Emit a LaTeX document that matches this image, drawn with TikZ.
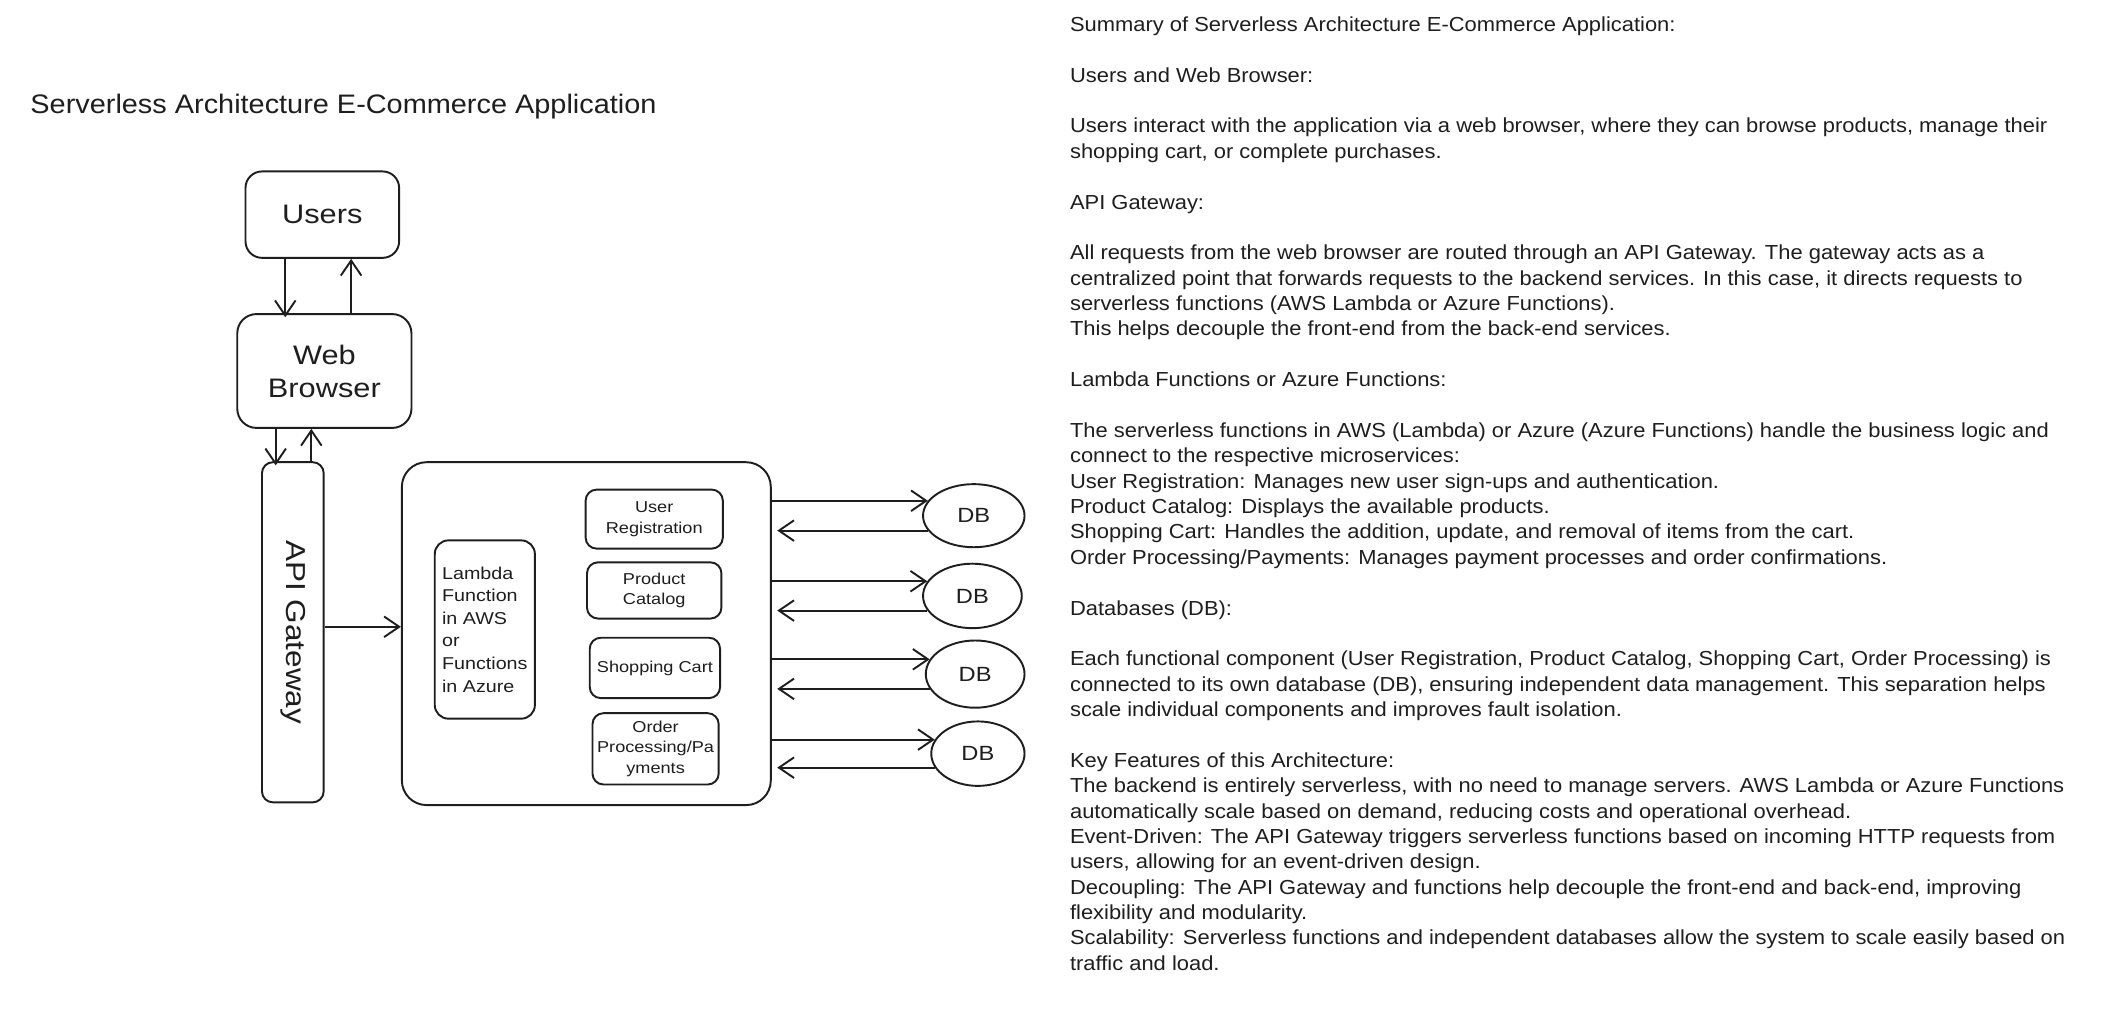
\documentclass[tikz,border=0pt]{standalone}
\usepackage{fontspec}
\setmainfont{Liberation Sans}[FakeStretch=1.08]
\newfontfamily\lblfont{Liberation Sans}[FakeStretch=1.15]
\usetikzlibrary{arrows.meta,shapes.geometric,calc}
\definecolor{ink}{RGB}{30,30,30}
\begin{document}
\begin{tikzpicture}[x=1pt,y=-1pt,
  box/.style={draw=ink, line width=1.4pt, rounded corners=12pt, inner sep=0pt, align=center, text=ink},
  arr/.style={draw=ink, line width=1.4pt, -{Straight Barb[length=11pt,width=15pt]}},
  dbs/.style={ellipse, draw=ink, line width=1.4pt, inner sep=0pt, text=ink, font=\lblfont\fontsize{15}{18}\selectfont},
  big/.style={font=\lblfont\fontsize{19.5}{24}\selectfont},
  small/.style={font=\lblfont\fontsize{11.5}{15}\selectfont}]
\useasboundingbox (0,0) rectangle (1545,746);
\fill[white] (0,0) rectangle (1545,746);

\node[anchor=west, inner sep=0pt, text=ink, font=\fontsize{19.5}{24}\selectfont] (title) at (22,78) {Serverless Architecture E-Commerce Application};

\node[box, big, minimum width=112pt, minimum height=63pt] (users) at (235,156.5) {Users};
\node[box, big, rounded corners=14pt, minimum width=127pt, minimum height=83pt] (browser) at (236.5,270.5) {Web\\Browser};
\node[box, rounded corners=8pt, minimum width=45pt, minimum height=248pt] (api) at (213.5,461) {};
\node[rotate=-90, inner sep=0pt, text=ink, font=\lblfont\fontsize{20}{24}\selectfont] (apitxt) at (api.center) {API Gateway};

\node[box, rounded corners=18pt, minimum width=269pt, minimum height=250pt] (main) at (427.5,462) {};
\node[box, rounded corners=10pt, minimum width=73pt, minimum height=130pt, align=left, font=\lblfont\fontsize{12.5}{16.5}\selectfont] (lambda) at (353.5,459) {Lambda\\Function\\in AWS\\or\\Functions\\in Azure};

\node[box, small, rounded corners=8pt, minimum width=100pt, minimum height=43pt] (ur) at (477,378.5) {User\\Registration};
\node[box, small, rounded corners=8pt, minimum width=98pt, minimum height=41pt] (pc) at (477,430.5) {Product\\Catalog};
\node[box, small, rounded corners=8pt, minimum width=95pt, minimum height=44pt] (sc) at (477.5,487) {Shopping Cart};
\node[box, small, rounded corners=8pt, minimum width=92pt, minimum height=52pt] (op) at (478,546) {Order\\Processing/Pa\\yments};

\node[dbs, minimum width=74pt, minimum height=46pt] (db1) at (710,376) {DB};
\node[dbs, minimum width=72pt, minimum height=47pt] (db2) at (709,434.5) {DB};
\node[dbs, minimum width=72pt, minimum height=49pt] (db3) at (711,491.5) {DB};
\node[dbs, minimum width=68pt, minimum height=47pt] (db4) at (713,549.5) {DB};

% users <-> browser
\draw[arr] ([xshift=-27pt]users.south) -- ([xshift=-27pt,yshift=-3pt]users.south |- browser.north);
\draw[arr] ([xshift=19.5pt]browser.north) -- ([xshift=19.5pt]browser.north |- users.south);
% browser <-> api
\draw[arr] ([xshift=-35.5pt]browser.south) -- ([xshift=-35.5pt,yshift=-3pt]browser.south |- api.north);
\draw[arr] ([xshift=-9.5pt]browser.south |- api.north) -- ([xshift=-9.5pt]browser.south);
% api -> functions
\draw[arr] ([yshift=4pt]api.east) -- ([yshift=4pt]api.east -| main.west);
% functions <-> DBs
\foreach \d in {db1,db2,db3,db4}{
  \draw[arr] (main.east |- \d.162) -- (\d.162);
  \draw[arr] (\d.198) -- ([xshift=4pt]\d.198 -| main.east);
}

\node[anchor=north west, inner sep=0pt, align=left, text=ink, font=\fontsize{14.8}{18.5}\selectfont] (summary) at (780,12) {%
Summary of Serverless Architecture E-Commerce Application:\\[18.5pt]
Users and Web Browser:\\[18.5pt]
Users interact with the application via a web browser, where they can browse products, manage their\\
shopping cart, or complete purchases.\\[18.5pt]
API Gateway:\\[18.5pt]
All requests from the web browser are routed through an API Gateway. The gateway acts as a\\
centralized point that forwards requests to the backend services. In this case, it directs requests to\\
serverless functions (AWS Lambda or Azure Functions).\\
This helps decouple the front-end from the back-end services.\\[18.5pt]
Lambda Functions or Azure Functions:\\[18.5pt]
The serverless functions in AWS (Lambda) or Azure (Azure Functions) handle the business logic and\\
connect to the respective microservices:\\
User Registration: Manages new user sign-ups and authentication.\\
Product Catalog: Displays the available products.\\
Shopping Cart: Handles the addition, update, and removal of items from the cart.\\
Order Processing/Payments: Manages payment processes and order confirmations.\\[18.5pt]
Databases (DB):\\[18.5pt]
Each functional component (User Registration, Product Catalog, Shopping Cart, Order Processing) is\\
connected to its own database (DB), ensuring independent data management. This separation helps\\
scale individual components and improves fault isolation.\\[18.5pt]
Key Features of this Architecture:\\
The backend is entirely serverless, with no need to manage servers. AWS Lambda or Azure Functions\\
automatically scale based on demand, reducing costs and operational overhead.\\
Event-Driven: The API Gateway triggers serverless functions based on incoming HTTP requests from\\
users, allowing for an event-driven design.\\
Decoupling: The API Gateway and functions help decouple the front-end and back-end, improving\\
flexibility and modularity.\\
Scalability: Serverless functions and independent databases allow the system to scale easily based on\\
traffic and load.};
\end{tikzpicture}
\end{document}
